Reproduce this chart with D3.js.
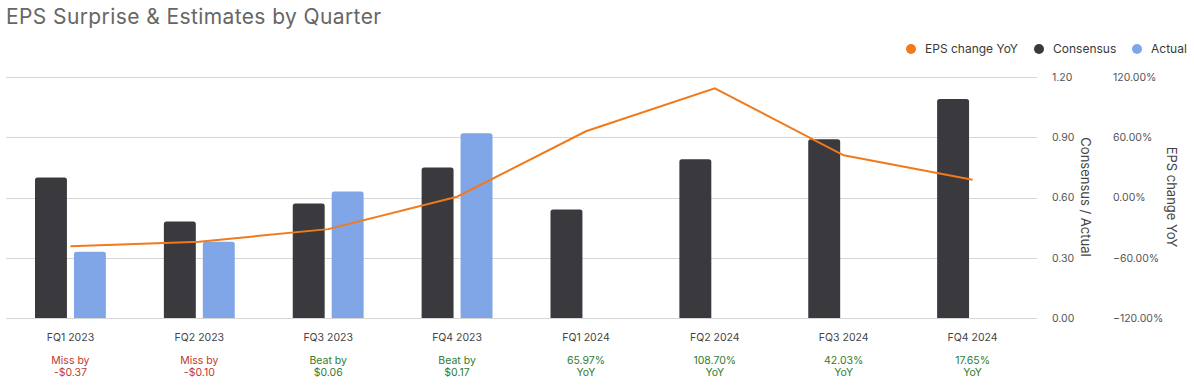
<!DOCTYPE html>
<html>
<head>
<meta charset="utf-8">
<script src="https://cdn.jsdelivr.net/npm/d3@7"></script>
<style>
  body { margin: 0; background: #fff; }
  text { font-family: Inter, "Noto Sans", sans-serif; }
</style>
</head>
<body>
<div class="canva"></div>
<script>
var width = 1194;
var height = 385;

// data
const quarters = ['FQ1 2023', 'FQ2 2023', 'FQ3 2023', 'FQ4 2023', 'FQ1 2024', 'FQ2 2024', 'FQ3 2024', 'FQ4 2024'];
const consensus = [0.70, 0.48, 0.57, 0.75, 0.54, 0.79, 0.89, 1.09];
const actual = [0.33, 0.38, 0.63, 0.92, null, null, null, null];
const yoy = [-48.6, -44.0, -31.5, 0.8, 65.97, 108.70, 42.03, 17.65];
const noteTop = ['Miss by', 'Miss by', 'Beat by', 'Beat by', '65.97%', '108.70%', '42.03%', '17.65%'];
const noteBottom = ['-$0.37', '-$0.10', '$0.06', '$0.17', 'YoY', 'YoY', 'YoY', 'YoY'];
const leftTicks = [0, 0.3, 0.6, 0.9, 1.2];
const rightTicks = [-120, -60, 0, 60, 120];

const colors = { consensus: '#3a393e', actual: '#80a6e8', yoy: '#f07a1c' };

const svg = d3.select('.canva').append('svg')
    .attr('width', width)
    .attr('height', height);

const plotLeft = 6, plotRight = 1037, plotTop = 77, plotBottom = 318;

const x0 = d3.scaleBand().domain(quarters).range([plotLeft, plotRight]);
const inner = x0.bandwidth() * 0.55;
const x1 = d3.scaleBand().domain(['consensus', 'actual'])
    .range([(x0.bandwidth() - inner) / 2, (x0.bandwidth() + inner) / 2])
    .paddingInner(0.18);
const y = d3.scaleLinear().domain([0, 1.2]).range([plotBottom, plotTop]);
const y2 = d3.scaleLinear().domain([-120, 120]).range([plotBottom, plotTop]);

// title
svg.append('text')
    .attr('x', 6).attr('y', 24)
    .attr('font-size', 21)
    .attr('letter-spacing', 0.4)
    .attr('fill', '#666')
    .text('EPS Surprise & Estimates by Quarter');

// gridlines
svg.append('g')
    .selectAll('line')
    .data(leftTicks)
    .enter().append('line')
    .attr('x1', plotLeft).attr('x2', plotRight)
    .attr('y1', d => Math.round(y(d)) + 0.5)
    .attr('y2', d => Math.round(y(d)) + 0.5)
    .attr('stroke', '#d6d6d6');

// left value axis (drawn on the right)
const axL = svg.append('g')
    .attr('transform', 'translate(' + plotRight + ',0)')
    .call(d3.axisRight(y).tickValues(leftTicks).tickFormat(d3.format('.2f')).tickSize(0).tickPadding(15));
axL.select('.domain').remove();
axL.selectAll('text').attr('font-size', 10.5).attr('fill', '#555').style('font-family', 'Inter, sans-serif');

const axR = svg.append('g')
    .attr('transform', 'translate(1113,0)')
    .call(d3.axisRight(y2).tickValues(rightTicks).tickFormat(d => d3.format('.2f')(d) + '%').tickSize(0).tickPadding(0));
axR.select('.domain').remove();
axR.selectAll('text').attr('font-size', 10.5).attr('fill', '#555').style('font-family', 'Inter, sans-serif');

svg.append('text')
    .attr('transform', 'translate(1081,197) rotate(90)')
    .attr('text-anchor', 'middle')
    .attr('font-size', 13).attr('fill', '#444')
    .text('Consensus / Actual');
svg.append('text')
    .attr('transform', 'translate(1167,197) rotate(90)')
    .attr('text-anchor', 'middle')
    .attr('font-size', 13).attr('fill', '#444')
    .text('EPS change YoY');

// bars
const rows = quarters.map((q, i) => ({ q: q, consensus: consensus[i], actual: actual[i] }));

const groups = svg.append('g').selectAll('g')
    .data(rows)
    .enter().append('g')
    .attr('transform', d => 'translate(' + x0(d.q) + ',0)');

groups.selectAll('path')
    .data(d => ['consensus', 'actual'].filter(k => d[k] != null).map(k => ({ key: k, value: d[k] })))
    .enter().append('path')
    .attr('fill', d => colors[d.key])
    .attr('d', d => {
        const bx = x1(d.key), bw = x1.bandwidth(), top = y(d.value), r = 2.5;
        return 'M' + bx + ',' + plotBottom +
            'V' + (top + r) +
            'Q' + bx + ',' + top + ' ' + (bx + r) + ',' + top +
            'H' + (bx + bw - r) +
            'Q' + (bx + bw) + ',' + top + ' ' + (bx + bw) + ',' + (top + r) +
            'V' + plotBottom + 'Z';
    });

// yoy line
const line = d3.line()
    .x((d, i) => x0(quarters[i]) + x0.bandwidth() / 2)
    .y(d => y2(d));

svg.append('path')
    .datum(yoy)
    .attr('d', line)
    .attr('fill', 'none')
    .attr('stroke', colors.yoy)
    .attr('stroke-width', 2);

// category labels
const xAxis = svg.append('g')
    .attr('transform', 'translate(0,' + plotBottom + ')')
    .call(d3.axisBottom(x0).tickSize(0).tickPadding(16));
xAxis.select('.domain').remove();
xAxis.selectAll('text').attr('font-size', 10.5).attr('fill', '#444').style('font-family', 'Inter, sans-serif');

const notes = svg.append('g').selectAll('text')
    .data(quarters)
    .enter().append('text')
    .attr('text-anchor', 'middle')
    .attr('font-size', 10.5)
    .attr('fill', (d, i) => noteTop[i].startsWith('Miss') ? '#c0392b' : '#2e7d32');
notes.append('tspan')
    .attr('x', d => x0(d) + x0.bandwidth() / 2)
    .attr('y', 364)
    .text((d, i) => noteTop[i]);
notes.append('tspan')
    .attr('x', d => x0(d) + x0.bandwidth() / 2)
    .attr('y', 376)
    .text((d, i) => noteBottom[i]);

// legend
const legendItems = [
    { label: 'EPS change YoY', color: colors.yoy, x: 911 },
    { label: 'Consensus', color: colors.consensus, x: 1039 },
    { label: 'Actual', color: colors.actual, x: 1137 }
];
const legend = svg.append('g').selectAll('g')
    .data(legendItems)
    .enter().append('g')
    .attr('transform', d => 'translate(' + d.x + ',49)');
legend.append('circle').attr('r', 5).attr('fill', d => d.color);
legend.append('text')
    .attr('x', 14).attr('dy', '0.35em')
    .attr('font-size', 12).attr('fill', '#3a3a3a')
    .text(d => d.label);
</script>
</body>
</html>
